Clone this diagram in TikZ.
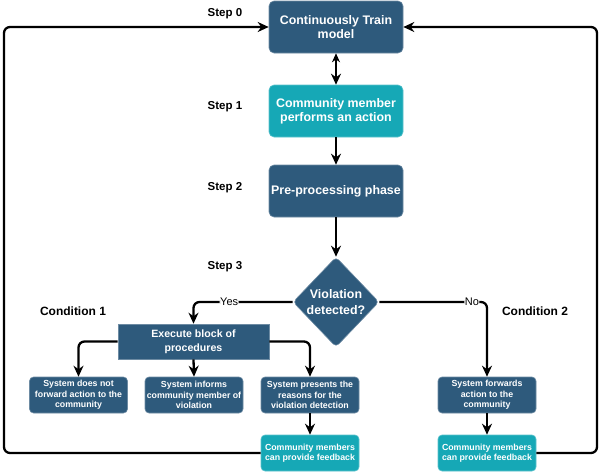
\documentclass[tikz,border=0pt]{standalone}
\usepackage{fontspec}
\setmainfont{Liberation Sans}
\usetikzlibrary{shapes.geometric,arrows.meta}
\definecolor{dblue}{RGB}{46,90,124}
\definecolor{tealbox}{RGB}{22,168,182}
\begin{document}
\begin{tikzpicture}[x=1pt,y=-1pt,
  bigbox/.style={rounded corners=5pt, fill=dblue, draw=dblue!70!white, line width=0.6pt, text=white,
    font=\bfseries\fontsize{12.4}{14}\selectfont, align=center, inner sep=0pt,
    minimum width=134pt, minimum height=52pt},
  tealbig/.style={bigbox, fill=tealbox, draw=tealbox!70!white},
  smallbox/.style={rounded corners=4pt, fill=dblue, draw=dblue!70!white, line width=0.6pt, text=white,
    font=\bfseries\fontsize{8.8}{10.5}\selectfont, align=center, inner sep=0pt,
    minimum width=98pt, minimum height=36pt},
  tealsmall/.style={smallbox, fill=tealbox, draw=tealbox!70!white},
  execbox/.style={fill=dblue, draw=dblue!70!white, line width=0.6pt, text=white,
    font=\bfseries\fontsize{10.6}{14}\selectfont, align=center, inner sep=0pt,
    minimum width=151pt, minimum height=35pt},
  decision/.style={diamond, rounded corners=4pt, fill=dblue, draw=dblue!70!white, line width=0.6pt, text=white,
    font=\bfseries\fontsize{12.4}{15.7}\selectfont, align=center, inner sep=0pt,
    minimum width=86pt, minimum height=90pt},
  steplabel/.style={font=\bfseries\fontsize{11.5}{13}\selectfont, text=black},
  condlabel/.style={font=\bfseries\fontsize{12}{14}\selectfont, text=black},
  branchlabel/.style={font=\fontsize{11}{13}\selectfont, fill=white, inner sep=0.5pt},
  conn/.style={line width=2.3pt, draw=black, rounded corners=6pt},
  arr/.style={conn, -{Stealth[length=11pt,width=10pt]}},
]
\useasboundingbox (0,0) rectangle (600,472);

% main column
\node[bigbox]   (train)  at (336,27)  {Continuously Train\\model};
\node[tealbig]  (action) at (336,111) {Community member\\performs an action};
\node[bigbox]   (pre)    at (336,191) {Pre-processing phase};
\node[decision] (dec)    at (336,302) {Violation\\detected?};

% condition 1 branch
\node[execbox]  (exec)   at (193.5,341.5) {Execute block of\\procedures};
\node[smallbox] (sys1)   at (78.5,395) {System does not\\forward action to the\\community};
\node[smallbox] (sys2)   at (194,395)  {System informs\\community member of\\violation};
\node[smallbox] (sys3)   at (310,395)  {System presents the\\reasons for the\\violation detection};
\node[tealsmall] (fb1)   at (310,453)  {Community members\\can provide feedback};

% condition 2 branch
\node[smallbox] (sys4)   at (487,395)  {System forwards\\action to the\\community};
\node[tealsmall] (fb2)   at (487,453)  {Community members\\can provide feedback};

% labels
\node[steplabel] (s0) at (225,14)  {Step 0};
\node[steplabel] (s1) at (225,107) {Step 1};
\node[steplabel] (s2) at (225,188) {Step 2};
\node[steplabel] (s3) at (225,267) {Step 3};
\node[condlabel] (c1) at (73,311)  {Condition 1};
\node[condlabel] (c2) at (535,311) {Condition 2};

% loop corners
\coordinate (lb) at (4,453);
\coordinate (lt) at (4,27);
\coordinate (rb) at (597,453);
\coordinate (rt) at (597,27);

% connectors
\draw[conn, {Stealth[length=9pt,width=8pt]}-{Stealth[length=11pt,width=10pt]}] (train.south) -- (action.north);
\draw[arr] (action.south) -- (pre.north);
\draw[arr] (pre.south) -- (dec.north);
\draw[arr] (dec.west) -| node[branchlabel, pos=0.32] (yes) {Yes} (exec.north);
\draw[arr] (dec.east) -| node[branchlabel, pos=0.43] (no) {No} (sys4.north);
\draw[arr] (exec.west) -| (sys1.north);
\draw[arr] (exec.south) -- (sys2.north);
\draw[arr] (exec.east) -| (sys3.north);
\draw[arr] (sys3.south) -- (fb1.north);
\draw[arr] (sys4.south) -- (fb2.north);
\draw[arr] (fb1.west) -- (lb) -- (lt) -- (train.west);
\draw[arr] (fb2.east) -- (rb) -- (rt) -- (train.east);
\end{tikzpicture}
\end{document}
